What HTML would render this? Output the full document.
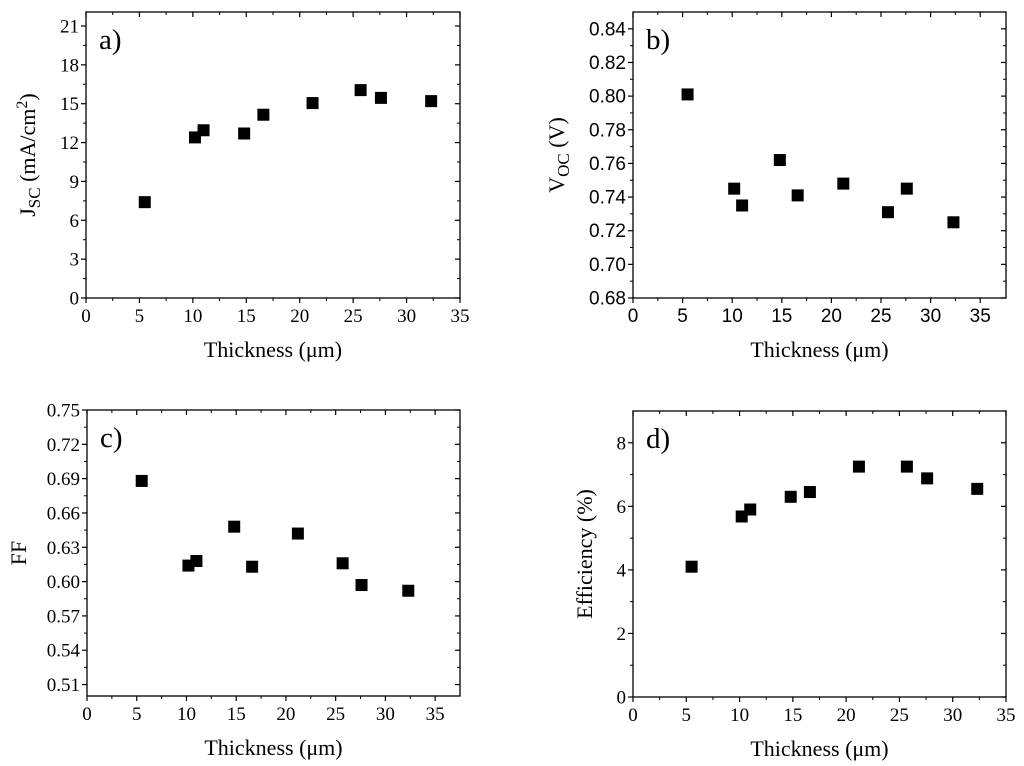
<!DOCTYPE html>
<html><head><meta charset="utf-8"><style>
body{margin:0;background:#fff;width:1024px;height:766px;overflow:hidden}
svg{display:block}
</style></head><body>
<svg id="chart" width="1024" height="766" xmlns="http://www.w3.org/2000/svg"></svg>
<script>
const thickness = [5.5, 10.2, 11.0, 14.8, 16.6, 21.2, 25.7, 27.6, 32.3];
const jscValues = [7.4, 12.4, 12.95, 12.7, 14.15, 15.05, 16.05, 15.45, 15.2];
const vocValues = [0.801, 0.745, 0.735, 0.762, 0.741, 0.748, 0.731, 0.745, 0.725];
const ffValues = [0.688, 0.614, 0.618, 0.648, 0.613, 0.642, 0.616, 0.597, 0.592];
const effValues = [4.1, 5.68, 5.9, 6.3, 6.45, 7.25, 7.25, 6.88, 6.55];
const xTicks = [0, 5, 10, 15, 20, 25, 30, 35];
const jscTicks = [0, 3, 6, 9, 12, 15, 18, 21];
const vocTicks = [0.68, 0.70, 0.72, 0.74, 0.76, 0.78, 0.80, 0.82, 0.84];
const ffTicks = [0.51, 0.54, 0.57, 0.60, 0.63, 0.66, 0.69, 0.72, 0.75];
const effTicks = [0, 2, 4, 6, 8];

const NS = 'http://www.w3.org/2000/svg';
const svg = document.getElementById('chart');
function mk(tag, attrs, parent) {
  const e = document.createElementNS(NS, tag);
  for (const k in attrs) e.setAttribute(k, attrs[k]);
  (parent || svg).appendChild(e);
  return e;
}

function panel(o) {
  const g = mk('g', {});
  
  
  const xs = v => o.L + (v - o.x0) / (o.x1 - o.x0) * (o.R - o.L);
  const ys = v => o.B - (v - o.y0) / (o.y1 - o.y0) * (o.B - o.T);
  const frame = mk('rect', {x: o.L, y: o.T, width: o.R - o.L, height: o.B - o.T, fill: 'none', stroke: '#000', 'stroke-width': 1.3}, g);
  
  
  const font = o.font;
  for (let i = 0; i < xTicks.length; i++) {
    const v = xTicks[i], x = xs(v);
    mk('line', {x1: x, x2: x, y1: o.B, y2: o.B + 5, stroke: '#000', 'stroke-width': 1.2}, g);
    mk('line', {x1: x, x2: x, y1: o.T, y2: o.T + 5, stroke: '#000', 'stroke-width': 1.2}, g);
    const m = xs(v + 2.5);
    if (m < o.R - 1) {
      mk('line', {x1: m, x2: m, y1: o.B, y2: o.B + 3, stroke: '#000', 'stroke-width': 1}, g);
      mk('line', {x1: m, x2: m, y1: o.T, y2: o.T + 3, stroke: '#000', 'stroke-width': 1}, g);
    }
    const t = mk('text', {x: x, y: o.B + 24, 'text-anchor': 'middle', 'font-size': 19, 'font-family': font}, g);
    t.textContent = v;
    
    
  }
  const yt = o.yTicks, step = yt[1] - yt[0];
  for (let i = 0; i < yt.length; i++) {
    const v = yt[i], y = ys(v);
    mk('line', {x1: o.L - 5, x2: o.L, y1: y, y2: y, stroke: '#000', 'stroke-width': 1.2}, g);
    mk('line', {x1: o.R - 5, x2: o.R, y1: y, y2: y, stroke: '#000', 'stroke-width': 1.2}, g);
    const m = ys(v + step / 2);
    if (m > o.T + 1) {
      mk('line', {x1: o.L - 3, x2: o.L, y1: m, y2: m, stroke: '#000', 'stroke-width': 1}, g);
      mk('line', {x1: o.R - 3, x2: o.R, y1: m, y2: m, stroke: '#000', 'stroke-width': 1}, g);
    }
    const t = mk('text', {x: o.L - 7, y: y + 6.5, 'text-anchor': 'end', 'font-size': 19, 'font-family': font}, g);
    t.textContent = o.fmt(v);
    
    
  }
  for (let i = 0; i < thickness.length; i++) {
    const r = mk('rect', {x: xs(thickness[i]) - 6, y: ys(o.values[i]) - 6, width: 12, height: 12, fill: '#000'}, g);
    
    
  }
  const lab = mk('text', {x: o.L + 13, y: o.T + 37, 'font-size': 29, 'font-family': '"Liberation Serif", serif'}, g);
  lab.textContent = o.label;
  
  
  const xt = mk('text', {x: (o.L + o.R) / 2, y: o.B + 59, 'text-anchor': 'middle', 'font-size': 22, 'font-family': '"Liberation Serif", serif'}, g);
  xt.textContent = 'Thickness (\u03bcm)';
  
  
  const cy = (o.T + o.B) / 2;
  const yl = mk('text', {x: 0, y: 0, 'text-anchor': 'middle', 'font-size': 22, 'font-family': '"Liberation Serif", serif', transform: 'translate(' + o.ytx + ',' + cy + ') rotate(-90)'}, g);
  yl.innerHTML = o.ytitle;
  
  
}

const serif = '"Liberation Serif", serif', sans = '"Liberation Sans", sans-serif';
panel({name: 'panel-a-jsc', L: 86, R: 460, T: 12, B: 298, x0: 0, x1: 35, y0: 0, y1: 21 * 286 / 272, yTicks: jscTicks, values: jscValues, font: serif, fmt: v => v, label: 'a)', ytx: 35, ytitle: 'J<tspan font-size="17" dy="5">SC</tspan><tspan dy="-5"> (mA/cm</tspan><tspan font-size="16" dy="-8">2</tspan><tspan dy="8">)</tspan>'});
panel({name: 'panel-b-voc', L: 633, R: 1006, T: 12, B: 298, x0: 0, x1: 37.6, y0: 0.68, y1: 0.85, yTicks: vocTicks, values: vocValues, font: sans, fmt: v => v.toFixed(2), label: 'b)', ytx: 564, ytitle: 'V<tspan font-size="17" dy="5">OC</tspan><tspan dy="-5"> (V)</tspan>'});
panel({name: 'panel-c-ff', L: 87, R: 460, T: 410, B: 696, x0: 0, x1: 37.5, y0: 0.5, y1: 0.75, yTicks: ffTicks, values: ffValues, font: serif, fmt: v => v.toFixed(2), label: 'c)', ytx: 26, ytitle: 'FF'});
panel({name: 'panel-d-efficiency', L: 633, R: 1006, T: 411, B: 697, x0: 0, x1: 35, y0: 0, y1: 9, yTicks: effTicks, values: effValues, font: serif, fmt: v => v, label: 'd)', ytx: 592, ytitle: 'Efficiency (%)'});
</script>
</body></html>
